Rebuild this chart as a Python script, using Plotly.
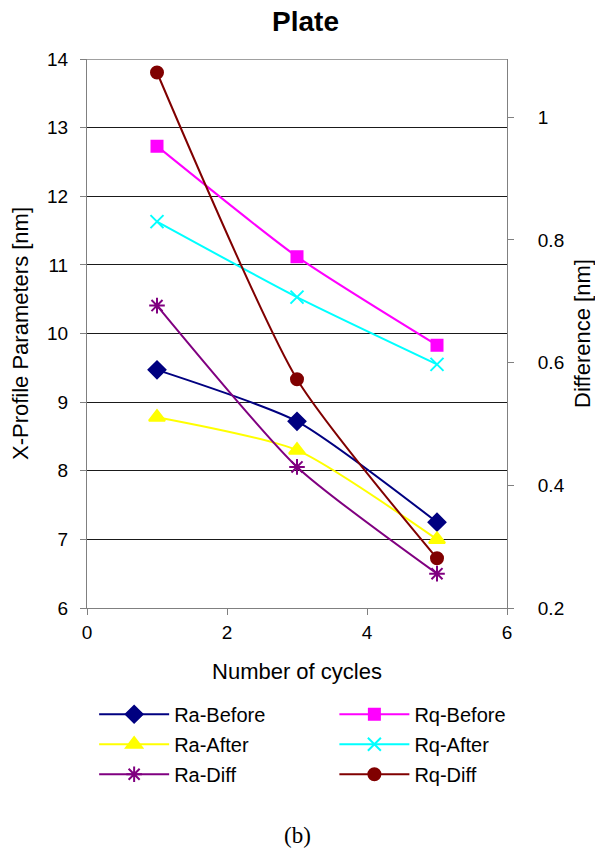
import plotly.graph_objects as go

cycles = [1, 3, 5]
ra_before = [9.47, 8.72, 7.25]
rq_before = [12.73, 11.12, 9.83]
ra_after = [8.78, 8.30, 7.00]
rq_after = [11.63, 10.53, 9.55]
ra_diff = [0.693, 0.430, 0.256]
rq_diff = [1.073, 0.573, 0.281]

series = [
    ("Ra-Before", ra_before, "#000080", "diamond", 13, "y", "legend"),
    ("Ra-After", ra_after, "#FFFF00", "triangle-up", 14, "y", "legend"),
    ("Ra-Diff", ra_diff, "#800080", "asterisk-open", 13, "y2", "legend"),
    ("Rq-Before", rq_before, "#FF00FF", "square", 11, "y", "legend2"),
    ("Rq-After", rq_after, "#00FFFF", "x-thin-open", 13, "y", "legend2"),
    ("Rq-Diff", rq_diff, "#800000", "circle", 12, "y2", "legend2"),
]

fig = go.Figure()
for name, vals, color, sym, size, ax, lg in series:
    fig.add_trace(go.Scatter(
        x=cycles, y=vals, name=name, yaxis=ax, mode="lines+markers",
        legend=lg, legendgroup=name,
        line=dict(color=color, width=2, shape="spline", smoothing=0.6),
        marker=dict(symbol=sym, size=size, color=color,
                    line=dict(color=color, width=2)),
    ))

font = "Liberation Sans, Arial, sans-serif"
axcol = "#808080"
leg_common = dict(orientation="v", yanchor="top", xanchor="left", y=-0.158,
                  font=dict(size=20, family=font), itemwidth=70,
                  tracegroupgap=1, bgcolor="rgba(0,0,0,0)")
# page has an 8px body margin, so the figure is sized to fit inside it
fig.update_layout(
    width=595, height=844,
    paper_bgcolor="white", plot_bgcolor="white",
    margin=dict(l=79, r=96, t=51, b=244, autoexpand=False),
    font=dict(family=font, size=18, color="black"),
    title=dict(text="<b>Plate</b>", x=0.5, xanchor="center", y=0.9965, yanchor="top",
               pad=dict(t=0, b=0),
               font=dict(size=28, family=font)),
    xaxis=dict(range=[0, 6], tickvals=[0, 2, 4, 6], showgrid=False,
               showline=True, linecolor=axcol, linewidth=1,
               ticks="outside", ticklen=6, tickcolor=axcol, ticklabelstandoff=1,
               tickfont=dict(size=19),
               title=dict(text="Number of cycles", font=dict(size=22), standoff=21),
               zeroline=False),
    yaxis=dict(range=[6, 14], dtick=1, showgrid=True, gridcolor="#1a1a1a", gridwidth=1,
               showline=True, linecolor=axcol, linewidth=1,
               ticks="outside", ticklen=6, tickcolor=axcol, ticklabelstandoff=8,
               tickfont=dict(size=19),
               title=dict(text="X-Profile Parameters [nm]", font=dict(size=22), standoff=14),
               zeroline=False),
    yaxis2=dict(range=[0.2, 1.095], tickvals=[0.2, 0.4, 0.6, 0.8, 1.0],
                ticktext=["0.2", "0.4", "0.6", "0.8", "1"],
                overlaying="y", side="right", showgrid=False,
                showline=True, linecolor=axcol, linewidth=1,
                ticks="outside", ticklen=6, tickcolor=axcol, ticklabelstandoff=20,
                tickfont=dict(size=19),
                title=dict(text="Difference [nm]", font=dict(size=22), standoff=10),
                zeroline=False),
    legend=dict(x=0.017, **leg_common),
    legend2=dict(x=0.589, **leg_common),
    showlegend=True,
)

fig.add_shape(type="line", xref="paper", yref="y", x0=0, x1=1, y0=14, y1=14,
              line=dict(color=axcol, width=1.5))

fig.add_annotation(text="(b)", xref="paper", yref="paper", x=0.5, y=-0.4135,
                   xanchor="center", yanchor="middle", showarrow=False,
                   font=dict(family="Liberation Serif, Times New Roman, serif", size=23))

fig.write_html("out.html")
